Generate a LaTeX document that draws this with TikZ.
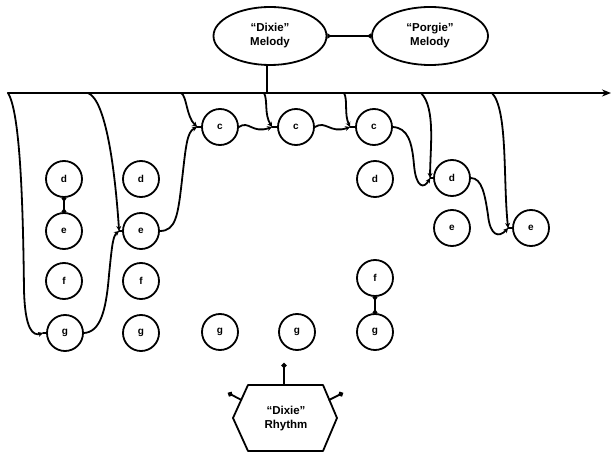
\documentclass[tikz,border=0pt]{standalone}
\usepackage{fontspec}
\setmainfont{Liberation Sans}
\usetikzlibrary{arrows.meta,shapes.geometric,calc}
\begin{document}
\begin{tikzpicture}[x=1pt,y=-1pt,
  line width=1.8pt, line join=round, line cap=round,
  note/.style={circle,draw,minimum size=36pt,inner sep=0pt,line width=1.8pt,font=\bfseries\fontsize{10}{10}\selectfont},
  mel/.style={ellipse,draw,minimum width=113pt,minimum height=58pt,inner sep=0pt,align=center,line width=1.8pt,font=\bfseries\fontsize{11.5}{14}\selectfont},
  meet/.style={-{Stealth[length=5pt,width=5pt]}},
  flare/.style={{Latex[reversed,length=5pt,width=6pt]}-{Latex[reversed,length=5pt,width=6pt]}},
  dotend/.style={-{Circle[length=5pt]}},
  timeline/.style={line width=2.4pt,-{Stealth[length=9pt,width=7pt]}},
]
\useasboundingbox (0,0) rectangle (611,454);

% melody ellipses
\node[mel] (dm) at (270,36) {“Dixie”\\Melody};
\node[mel,minimum width=116pt] (pm) at (430,36) {“Porgie”\\Melody};
\draw[flare] (dm.east) -- (pm.west);

% timeline
\coordinate (tl0) at (8,93);
\coordinate (tl1) at (611,93);
\draw[timeline] (tl0) -- (tl1);
\coordinate (td) at (267,93);
\draw (dm.south -| td) -- (td);

% notes
\node[note] (d1) at (64,179) {d};
\node[note] (e1) at (64,231) {e};
\node[note] (f1) at (64,281) {f};
\node[note] (g1) at (65,333) {g};
\node[note] (d2) at (141,179) {d};
\node[note] (e2) at (141,231) {e};
\node[note] (f2) at (141,281) {f};
\node[note] (g2) at (141,333) {g};
\node[note] (c3) at (220,127) {c};
\node[note] (g3) at (220,332) {g};
\node[note] (c4) at (296,127) {c};
\node[note] (g4) at (297,332) {g};
\node[note] (c5) at (374,127) {c};
\node[note] (d5) at (375,179) {d};
\node[note] (f5) at (375,278) {f};
\node[note] (g5) at (375,332) {g};
\node[note] (d6) at (452,178) {d};
\node[note] (e6) at (452,228) {e};
\node[note] (e7) at (531,228) {e};

\draw[flare] (d1.south) -- (e1.north);
\draw[flare] (f5.south) -- (g5.north);

% meeting points
\coordinate (xg1) at ([xshift=-3pt]g1.west);
\coordinate (xe2) at ([xshift=-3pt]e2.west);
\coordinate (xc3) at ([xshift=-4pt]c3.west);
\coordinate (xc4) at ([xshift=-5pt]c4.west);
\coordinate (xc5) at ([xshift=-5pt]c5.west);
\coordinate (xd6) at ([xshift=-3pt]d6.west);
\coordinate (xe7) at ([xshift=-4pt]e7.west);
\coordinate (t2) at (88,93);
\coordinate (t3) at (181,93);
\coordinate (t4) at (264,93);
\coordinate (t5) at (344,93);
\coordinate (t6) at (421,93);
\coordinate (t7) at (492,93);

% drops from the timeline
\draw[meet] (tl0) .. controls (20,112) and (23,200) .. (24,290) .. controls (25,330) and (33,336) .. (xg1);
\draw[meet] (t2) .. controls (106,100) and (115,170) .. (xe2);
\draw[meet] (t3) .. controls (187,96) and (186,116) .. (xc3);
\draw[meet] (t4) .. controls (268,100) and (264,114) .. (xc4);
\draw[meet] (t5) .. controls (348,100) and (344,114) .. (xc5);
\draw[meet] (t6) .. controls (436,108) and (430,150) .. (xd6);
\draw[meet] (t7) .. controls (508,110) and (503,180) .. (xe7);

% melody thread
\draw[meet] (g1.east) .. controls (100,332) and (106,312) .. (109,275) .. controls (112,245) and (113,236) .. (xe2);
\draw[meet] (e2.east) .. controls (176,231) and (178,215) .. (182,180) .. controls (186,145) and (187,132) .. (xc3);
\draw[meet] (c3.east) .. controls (249,120) and (252,134) .. (xc4);
\draw[meet] (c4.east) .. controls (326,120) and (330,134) .. (xc5);
\draw[meet] (c5.east) .. controls (408,128) and (412,142) .. (414,165) .. controls (416,188) and (424,189) .. (xd6);
\draw[meet] (d6.east) .. controls (482,178) and (485,195) .. (488,215) .. controls (490,236) and (499,238) .. (xe7);
\draw (xg1) -- (g1.west);
\draw (xe2) -- (e2.west);
\draw (xc3) -- (c3.west);
\draw (xc4) -- (c4.west);
\draw (xc5) -- (c5.west);
\draw (xd6) -- (d6.west);
\draw (xe7) -- (e7.west);

% rhythm hexagon
\coordinate (h1) at (248,385);
\coordinate (h2) at (323,385);
\coordinate (h3) at (337,418);
\coordinate (h4) at (323,451);
\coordinate (h5) at (248,451);
\coordinate (h6) at (233,418);
\draw (h1) -- (h2) -- (h3) -- (h4) -- (h5) -- (h6) -- cycle;
\node[align=center,font=\bfseries\fontsize{11.5}{14}\selectfont] (dr) at (286,419) {“Dixie”\\Rhythm};
\coordinate (ht) at (284,385);
\coordinate (hl) at ($(h6)!0.55!(h1)$);
\coordinate (hr) at ($(h3)!0.55!(h2)$);
\coordinate (st) at (284,363);
\coordinate (sl) at (228,393);
\coordinate (sr) at (343,393);
\draw[dotend] (ht) -- (st);
\draw[dotend] (hl) -- (sl);
\draw[dotend] (hr) -- (sr);
\end{tikzpicture}
\end{document}
